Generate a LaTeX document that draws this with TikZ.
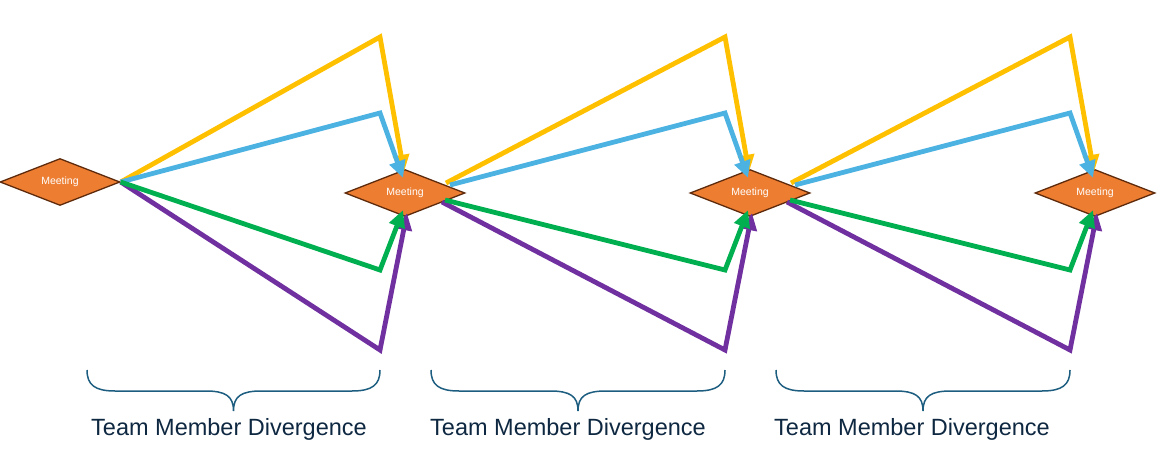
\documentclass[tikz,border=0pt]{standalone}
\usepackage{fontspec}
\setmainfont{Liberation Sans}
\usetikzlibrary{shapes.geometric,arrows.meta,calc}
\definecolor{cyel}{HTML}{FFC000}
\definecolor{cblu}{HTML}{4CB2E2}
\definecolor{cgrn}{HTML}{00B050}
\definecolor{cpur}{HTML}{7030A0}
\definecolor{corg}{HTML}{ED7D31}
\definecolor{cbrd}{HTML}{5E2A0C}
\definecolor{cbrace}{HTML}{1D5E80}
\definecolor{ctxt}{HTML}{0E2841}
\tikzset{
  meet/.style={diamond, draw=cbrd, line width=1.3pt, fill=corg, inner sep=0pt,
    minimum width=120pt, minimum height=47pt, aspect=2.55,
    text=white, font=\fontsize{10.5}{12}\selectfont},
  path/.style={line width=4.8pt, line join=miter, -{Triangle[length=17pt,width=16pt]}},
  bracestyle/.style={draw=cbrace, line width=1.5pt},
  lbl/.style={anchor=base, text=ctxt, font=\fontsize{23.5}{26}\selectfont, inner sep=0pt}
}
\begin{document}
\begin{tikzpicture}[x=1pt,y=-1pt]
\useasboundingbox (0,0) rectangle (1166,457);
\node[meet] (m1) at (60,182) {\raisebox{-1pt}{Meeting}};
\node[meet] (m2) at (405,193) {\raisebox{-1pt}{Meeting}};
\node[meet] (m3) at (750,193) {\raisebox{-1pt}{Meeting}};
\node[meet] (m4) at (1095,193) {\raisebox{-1pt}{Meeting}};

% corner coordinates
\foreach \g/\x in {1/380,2/725,3/1070}{
  \coordinate (y\g) at (\x,37);
  \coordinate (b\g) at (\x,113);
  \coordinate (g\g) at (\x,270);
  \coordinate (p\g) at (\x,350);
}
% start points
\coordinate (sy1) at (m1.east); \coordinate (sb1) at (m1.east);
\coordinate (sg1) at (m1.east); \coordinate (sp1) at (m1.east);
\foreach \g/\m in {2/m2,3/m3}{
  \coordinate (sy\g) at ($(\m)+(41,-10)$);
  \coordinate (sb\g) at ($(\m)+(45,-8)$);
  \coordinate (sg\g) at ($(\m)+(40,7)$);
  \coordinate (sp\g) at ($(\m)+(37,9)$);
}
% arrows
\foreach \g/\n in {1/m2,2/m3,3/m4}{
  \draw[path, cyel] (sy\g) -- (y\g) -- ($(\n.north)+(-1,3)$);
  \draw[path, cblu] (sb\g) -- (b\g) -- ($(\n.north)+(-2,9)$);
  \draw[path, cpur] (sp\g) -- (p\g) -- ($(\n.south)+(2,-4)$);
  \draw[path, cgrn] (sg\g) -- (g\g) -- ($(\n.south)+(-2,-7)$);
}
% braces and labels
\foreach \g/\l/\r/\t in {1/87/380/229,2/431/725/568,3/776/1070/912}{
  \pgfmathsetmacro{\c}{(\l+\r)/2}
  \draw[bracestyle] (\l,370) .. controls (\l,385) and (\l+8,391) .. (\l+28,391)
     -- (\c-28,391) .. controls (\c-8,391) and (\c,396) .. (\c,411)
     .. controls (\c,396) and (\c+8,391) .. (\c+28,391)
     -- (\r-28,391) .. controls (\r-8,391) and (\r,385) .. (\r,370);
  \node[lbl] (t\g) at (\t,435) {Team Member Divergence};
}
\end{tikzpicture}
\end{document}
